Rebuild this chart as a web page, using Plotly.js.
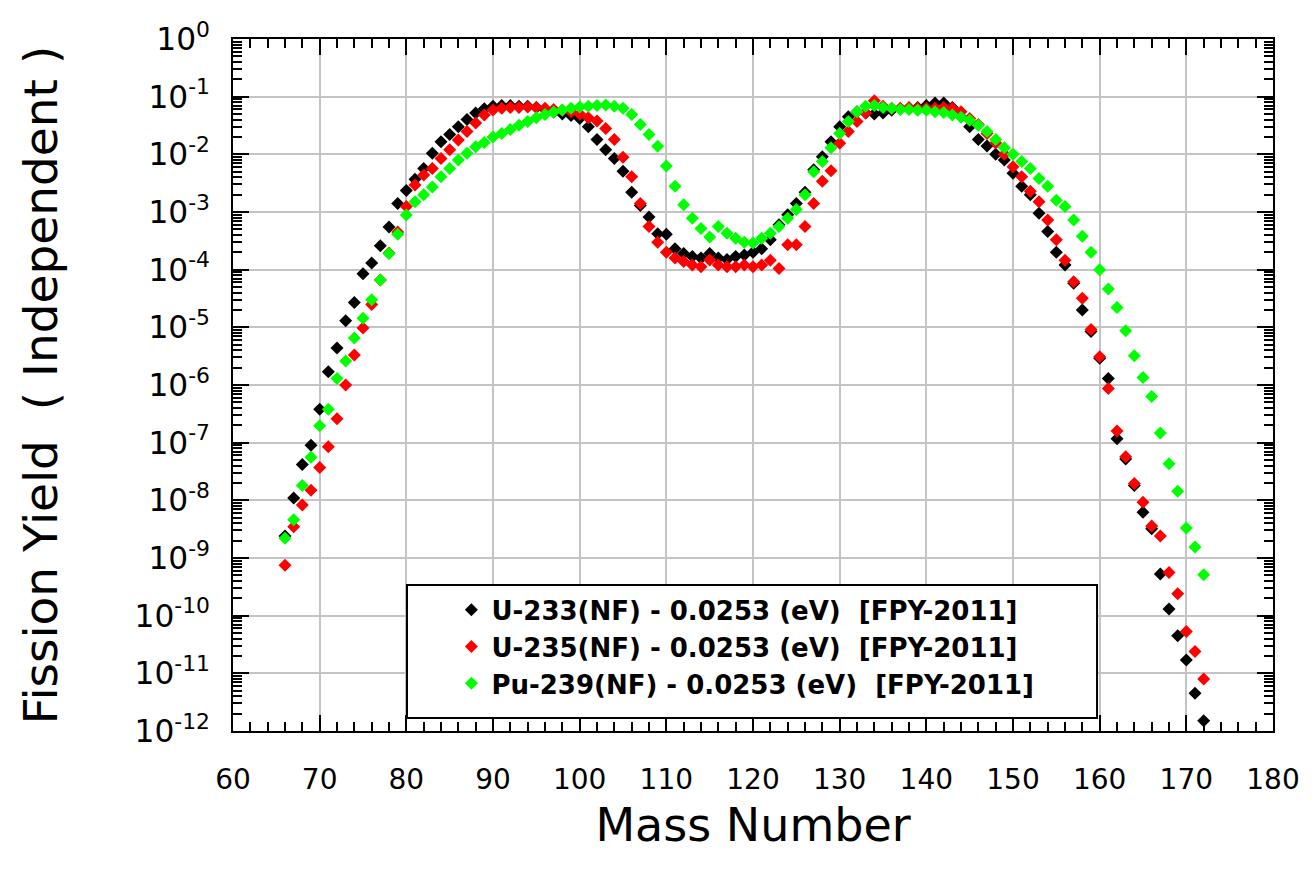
<!DOCTYPE html>
<html>
<head>
<meta charset="utf-8">
<script src="https://cdn.plot.ly/plotly-3.0.1.min.js"></script>
<style>
  html, body { margin: 0; padding: 0; background: #ffffff; }
  #chart { width: 1312px; height: 877px; }
</style>
</head>
<body>
<div id="chart"></div>
<script>
const massNumber = [66,67,68,69,70,71,72,73,74,75,76,77,78,79,80,81,82,83,84,85,86,87,88,89,90,91,92,93,94,95,96,97,98,99,100,101,102,103,104,105,106,107,108,109,110,111,112,113,114,115,116,117,118,119,120,121,122,123,124,125,126,127,128,129,130,131,132,133,134,135,136,137,138,139,140,141,142,143,144,145,146,147,148,149,150,151,152,153,154,155,156,157,158,159,160,161,162,163,164,165,166,167,168,169,170,171,172];

const u233 = [2.4e-9,1.1e-8,4.2e-8,9.0e-8,3.8e-7,1.7e-6,4.4e-6,1.3e-5,2.7e-5,8.5e-5,1.3e-4,2.6e-4,5.5e-4,1.4e-3,2.35e-3,3.7e-3,5.7e-3,1.04e-2,1.66e-2,2.2e-2,3.0e-2,4.0e-2,5.2e-2,6.2e-2,6.8e-2,7.0e-2,7.0e-2,6.8e-2,6.8e-2,6.5e-2,6.0e-2,5.4e-2,5.0e-2,4.7e-2,4.2e-2,3.0e-2,1.8e-2,1.2e-2,8.5e-3,5.1e-3,2.2e-3,1.3e-3,8.2e-4,4.2e-4,4.1e-4,2.3e-4,1.9e-4,1.7e-4,1.6e-4,1.9e-4,1.6e-4,1.5e-4,1.7e-4,1.8e-4,2.0e-4,2.3e-4,3.3e-4,6.0e-4,9.0e-4,1.4e-3,2.2e-3,5.4e-3,9.1e-3,1.66e-2,3.0e-2,4.5e-2,5.5e-2,5.2e-2,5.0e-2,5.2e-2,5.8e-2,6.2e-2,6.3e-2,6.5e-2,7.0e-2,7.8e-2,7.8e-2,6.5e-2,4.5e-2,3.0e-2,1.8e-2,1.4e-2,1.0e-2,8.0e-3,4.7e-3,2.8e-3,2.0e-3,9.5e-4,4.6e-4,2.0e-4,1.2e-4,5.8e-5,2.0e-5,8.5e-6,2.9e-6,1.3e-6,1.17e-7,5.2e-8,1.8e-8,6.2e-9,3.2e-9,5.3e-10,1.3e-10,4.5e-11,1.7e-11,4.5e-12,1.5e-12];

const u235 = [7.5e-10,3.5e-9,8.3e-9,1.5e-8,3.7e-8,8.5e-8,2.6e-7,1.0e-6,3.3e-6,9.7e-6,2.5e-5,6.6e-5,1.94e-4,4.5e-4,1.24e-3,2.95e-3,4.4e-3,5.7e-3,8.5e-3,1.2e-2,1.78e-2,2.5e-2,3.5e-2,4.8e-2,5.9e-2,6.3e-2,6.5e-2,6.5e-2,6.6e-2,6.5e-2,6.3e-2,6.0e-2,5.8e-2,5.5e-2,5.0e-2,4.3e-2,3.8e-2,2.8e-2,1.8e-2,8.9e-3,4.1e-3,1.4e-3,5.6e-4,3.0e-4,2.0e-4,1.6e-4,1.38e-4,1.2e-4,1.12e-4,1.47e-4,1.2e-4,1.12e-4,1.12e-4,1.2e-4,1.12e-4,1.2e-4,1.45e-4,1.05e-4,2.7e-4,2.7e-4,5.6e-4,1.4e-3,3.4e-3,5.2e-3,1.56e-2,2.5e-2,3.7e-2,5.2e-2,8.5e-2,6.8e-2,6.3e-2,6.3e-2,6.5e-2,6.3e-2,6.3e-2,6.3e-2,6.5e-2,6.3e-2,5.5e-2,4.2e-2,3.3e-2,2.3e-2,1.58e-2,1.0e-2,6.1e-3,4.1e-3,2.3e-3,1.5e-3,7.3e-4,3.3e-4,1.45e-4,6.2e-5,3.2e-5,9.2e-6,3.1e-6,8.7e-7,1.6e-7,5.7e-8,1.95e-8,9.3e-9,3.6e-9,2.4e-9,5.6e-10,2.4e-10,5.3e-11,2.4e-11,8.0e-12];

const pu239 = [2.2e-9,4.6e-9,1.8e-8,5.6e-8,1.96e-7,3.8e-7,1.3e-6,2.6e-6,6.5e-6,1.44e-5,3.0e-5,6.6e-5,1.9e-4,4.1e-4,8.9e-4,1.5e-3,2.0e-3,2.7e-3,4.1e-3,5.7e-3,8.0e-3,1.04e-2,1.36e-2,1.6e-2,2.0e-2,2.3e-2,2.7e-2,3.2e-2,3.7e-2,4.3e-2,4.9e-2,5.4e-2,5.9e-2,6.3e-2,6.6e-2,6.8e-2,7.0e-2,7.2e-2,6.8e-2,6.3e-2,4.9e-2,3.3e-2,2.2e-2,1.38e-2,6.3e-3,2.8e-3,1.33e-3,7.8e-4,5.2e-4,3.7e-4,5.6e-4,4.3e-4,3.5e-4,3.0e-4,2.9e-4,3.5e-4,4.3e-4,5.6e-4,7.8e-4,1.1e-3,2.0e-3,5.0e-3,7.5e-3,1.3e-2,2.3e-2,3.7e-2,5.5e-2,6.8e-2,7.0e-2,6.5e-2,6.3e-2,6.0e-2,6.0e-2,5.8e-2,5.8e-2,5.5e-2,5.3e-2,4.8e-2,4.4e-2,3.9e-2,3.2e-2,2.5e-2,1.8e-2,1.3e-2,1.0e-2,7.5e-3,5.7e-3,3.8e-3,2.8e-3,1.6e-3,1.24e-3,7.3e-4,3.8e-4,2.0e-4,1.0e-4,4.6e-5,2.2e-5,8.7e-6,3.2e-6,1.35e-6,6.3e-7,1.47e-7,4.3e-8,1.44e-8,3.3e-9,1.55e-9,5.1e-10];

const seriesNames = [
  'U-233(NF) - 0.0253 (eV) \u00a0[FPY-2011]',
  'U-235(NF) - 0.0253 (eV) \u00a0[FPY-2011]',
  'Pu-239(NF) - 0.0253 (eV) \u00a0[FPY-2011]'
];
const seriesColors = ['#000000', '#ff0000', '#00ff00'];

// y tick labels: exponents shown as 10^n with a plain hyphen minus
const yExponents = [0,-1,-2,-3,-4,-5,-6,-7,-8,-9,-10,-11,-12];
const yLabelAlias = {};
yExponents.forEach(p => {
  const wanted = '10<sup>' + p + '</sup>';
  if (p === 0) { yLabelAlias['1'] = wanted; }
  else { yLabelAlias['10<sup>\u2212' + Math.abs(p) + '</sup>'] = wanted; }
});

// tick positions for the log-axis tick overlay (axis decoration only)
const yTickMarks = [];
for (let k = -12; k < 0; k++) {
  for (let m = 1; m <= 9; m++) yTickMarks.push(m * Math.pow(10, k));
}
yTickMarks.push(1);

const ys = [u233, u235, pu239];
const traces = ys.map((y, i) => ({
  type: 'scatter',
  mode: 'markers',
  x: massNumber,
  y: y,
  name: seriesNames[i],
  marker: { symbol: 'diamond', size: 10, color: seriesColors[i], line: { width: 0 } }
}));

const FONT = 'DejaVu Sans, Liberation Sans, Arial, sans-serif';

const layout = {
  width: 1312,
  height: 877,
  margin: { l: 233, r: 39, t: 39, b: 146 },
  paper_bgcolor: '#ffffff',
  plot_bgcolor: '#ffffff',
  showlegend: true,
  xaxis: {
    range: [60, 180],
    dtick: 10,
    showgrid: true,
    gridcolor: '#c4c4c4',
    gridwidth: 1.8,
    zeroline: false,
    showline: true,
    linecolor: '#000000',
    linewidth: 2,
    mirror: 'ticks',
    ticks: 'inside',
    ticklen: 16,
    tickwidth: 2,
    tickcolor: '#000000',
    ticklabelstandoff: 22,
    tickfont: { family: FONT, size: 28, color: '#000000' },
    minor: { ticks: 'inside', ticklen: 9, tickwidth: 1.6, tickcolor: '#000000', dtick: 2, showgrid: false },
    title: { text: 'Mass Number', font: { family: FONT, size: 46, color: '#000000' }, standoff: 14 }
  },
  yaxis: {
    type: 'log',
    range: [-12, 0],
    tickmode: 'linear',
    tick0: 0,
    dtick: 1,
    exponentformat: 'power',
    showexponent: 'all',
    labelalias: yLabelAlias,
    showgrid: true,
    gridcolor: '#c4c4c4',
    gridwidth: 1.8,
    zeroline: false,
    showline: true,
    linecolor: '#000000',
    linewidth: 2,
    mirror: 'ticks',
    ticks: 'inside',
    ticklen: 16,
    tickwidth: 2,
    tickcolor: '#000000',
    ticklabelstandoff: 16,
    tickfont: { family: FONT, size: 25, color: '#000000' },
    minor: { ticks: 'inside', ticklen: 9, tickwidth: 1.6, tickcolor: '#000000', dtick: 'D1', showgrid: false },
    title: { text: 'Fission Yield \u00a0( Independent )', font: { family: FONT, size: 47, color: '#000000' }, standoff: 62 }
  },
  yaxis2: {
    overlaying: 'y',
    anchor: 'x',
    side: 'left',
    type: 'log',
    range: [-12, 0],
    tickmode: 'array',
    tickvals: yTickMarks,
    ticks: 'inside',
    ticklen: 9,
    tickwidth: 1.6,
    tickcolor: '#000000',
    mirror: 'ticks',
    showticklabels: false,
    showgrid: false,
    zeroline: false,
    showline: false
  },
  legend: {
    x: 0.21,
    y: 0.209,
    xanchor: 'left',
    yanchor: 'top',
    bgcolor: 'rgba(0,0,0,0)',
    borderwidth: 0,
    font: { family: 'DejaVu Sans, Liberation Sans, Arial, sans-serif', size: 26, color: '#000000', weight: 'bold' },
    itemclick: false
  },
  shapes: [{
    type: 'rect',
    xref: 'paper', yref: 'paper',
    x0: 0.1673, x1: 0.8308, y0: 0.0188, y1: 0.211,
    line: { color: '#000000', width: 2 },
    fillcolor: '#ffffff',
    layer: 'above'
  }]
};

Plotly.newPlot('chart', traces, layout, { displayModeBar: false });
</script>
</body>
</html>
